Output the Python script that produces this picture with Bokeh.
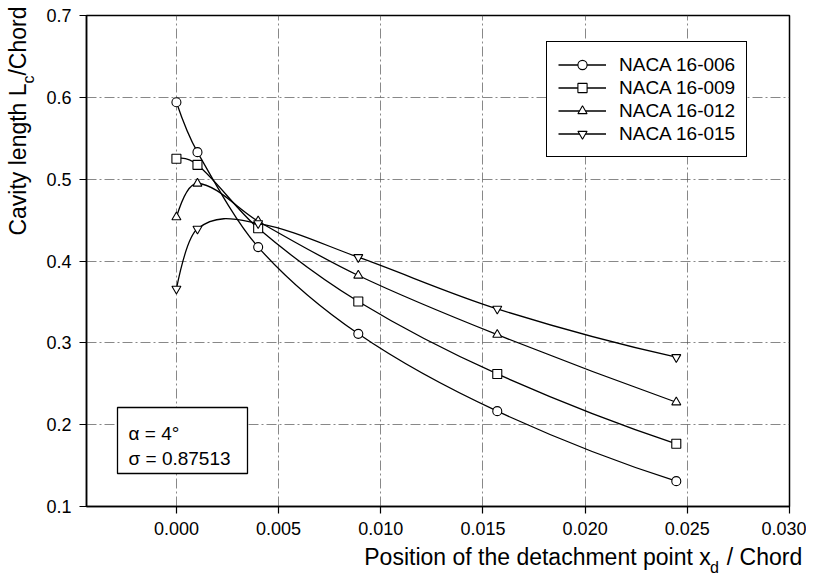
import numpy as np
from bokeh.plotting import figure
from bokeh.models import (Range1d, FixedTicker, NumeralTickFormatter, Label,
                          BoxAnnotation, Legend, LegendItem, LinearAxis)
from bokeh.embed import file_html
from bokeh.resources import INLINE

# ---------------- data ----------------
x_pos = [0.0, 0.00103, 0.0040, 0.0089, 0.0157, 0.02446]
naca_006 = [0.594, 0.533, 0.417, 0.311, 0.2165, 0.131]
naca_009 = [0.525, 0.5175, 0.440, 0.3505, 0.262, 0.1766]
naca_012 = [0.4535, 0.4947, 0.4486, 0.3823, 0.310, 0.2274]
naca_015 = [0.366, 0.4393, 0.446, 0.4046, 0.3415, 0.2824]
series_names = ["NACA 16-006", "NACA 16-009", "NACA 16-012", "NACA 16-015"]
series_markers = ["circle", "square", "triangle", "inverted_triangle"]
x_ticks = [0.000, 0.005, 0.010, 0.015, 0.020, 0.025, 0.030]
y_ticks = [0.1, 0.2, 0.3, 0.4, 0.5, 0.6, 0.7]
note_lines = ["\u03b1 = 4\u00b0", "\u03c3 = 0.87513"]
x_title = ["Position of the detachment point x", "d", "/ Chord"]
y_title = ["Cavity length L", "c", "/Chord"]

FONT = "Liberation Sans"
X_MIN, X_MAX = -0.0044, 0.030
Y_MIN, Y_MAX = 0.1, 0.7
FL, FT, FW, FH = 86, 15, 703, 491  # frame position in pixels


def X(px):
    return round(X_MIN + (px - FL) / FW * (X_MAX - X_MIN), 7)


def Y(py):
    return round(Y_MAX - (py - FT) / FH * (Y_MAX - Y_MIN), 7)


def bezier_segments(x, y):
    """Smooth (Catmull-Rom like) cubic Bezier segments through the points."""
    x = np.asarray(x, float)
    y = np.asarray(y, float)
    n = len(x)
    h = np.diff(x)
    sec = np.diff(y) / h
    m = np.zeros(n)
    for i in range(1, n - 1):
        m[i] = (y[i + 1] - y[i - 1]) / (x[i + 1] - x[i - 1])
    m[0] = 2 * sec[0] - m[1]
    m[-1] = 2 * sec[-1] - m[-2]
    return dict(
        x0=x[:-1], y0=y[:-1], x1=x[1:], y1=y[1:],
        cx0=x[:-1] + h / 3, cy0=y[:-1] + m[:-1] * h / 3,
        cx1=x[1:] - h / 3, cy1=y[1:] - m[1:] * h / 3,
    )


p = figure(output_backend="svg", toolbar_location=None,
           x_range=Range1d(X_MIN, X_MAX), y_range=Range1d(Y_MIN, Y_MAX),
           min_border_left=FL, min_border_right=17, min_border_top=FT,
           min_border_bottom=67, frame_width=FW, frame_height=FH)
p.background_fill_color = "white"
p.border_fill_color = "white"
p.outline_line_color = "black"
p.outline_line_alpha = 1
p.outline_line_width = 1.5

for ax in (p.xaxis[0], p.yaxis[0]):
    ax.axis_line_color = "black"
    ax.axis_line_width = 1.5
    ax.major_tick_line_color = "black"
    ax.major_tick_line_width = 1.2
    ax.major_tick_out = 7
    ax.major_tick_in = 0
    ax.minor_tick_line_color = None
    ax.major_label_text_font = FONT
    ax.major_label_text_font_size = "18px"
    ax.major_label_text_color = "black"
    ax.major_label_standoff = 8

p.xaxis.ticker = FixedTicker(ticks=x_ticks)
p.yaxis.ticker = FixedTicker(ticks=y_ticks)
p.xaxis.formatter = NumeralTickFormatter(format="0.000")
p.yaxis.formatter = NumeralTickFormatter(format="0.0")

p.xgrid.ticker = FixedTicker(ticks=x_ticks)
p.ygrid.ticker = FixedTicker(ticks=y_ticks)
for g in (p.xgrid[0], p.ygrid[0]):
    g.grid_line_color = "#555555"
    g.grid_line_width = 1
    g.grid_line_alpha = 0.7
    g.grid_line_dash = "10 3 2 3"


def title_axis(positions, texts, size, standoff, vertical=False):
    d = {}
    for pos, t in zip(positions, texts):
        d[pos] = t
        d[str(pos)] = t
    ax = LinearAxis(ticker=FixedTicker(ticks=positions),
                    major_label_overrides=d)
    ax.axis_line_color = None
    ax.major_tick_line_color = None
    ax.minor_tick_line_color = None
    ax.major_tick_out = 0
    ax.major_tick_in = 0
    ax.major_label_text_font = FONT
    ax.major_label_text_font_size = size
    ax.major_label_text_color = "black"
    ax.major_label_standoff = standoff
    if vertical:
        ax.major_label_orientation = "vertical"
    return ax


# x axis title (main text, then subscript row)
p.add_layout(title_axis([X(537), X(764)], [x_title[0], x_title[2]], "23px", 6), "below")
p.add_layout(title_axis([X(714)], [x_title[1]], "16px", -14), "below")
# y axis title (subscript column is nearer to the frame)
p.add_layout(title_axis([Y(79)], [y_title[1]], "16px", 6, vertical=True), "left")
p.add_layout(title_axis([Y(159), Y(40.5)], [y_title[0], y_title[2]], "23px", -14,
                        vertical=True), "left")

series_vals = [naca_006, naca_009, naca_012, naca_015]
items = []
for name, vals, mk in zip(series_names, series_vals, series_markers):
    seg = bezier_segments(x_pos, vals)
    br = p.bezier(line_color="black", line_width=1.3, **seg)
    sr = p.scatter(x_pos, vals, marker=mk, size=9, fill_color="white",
                   line_color="black", line_width=1.1)
    items.append(LegendItem(label=name, renderers=[br, sr]))

legend = Legend(items=items, location=(460, 349))
legend.label_text_font = FONT
legend.label_text_font_size = "19px"
legend.label_text_color = "black"
legend.label_height = 23
legend.glyph_height = 23
legend.glyph_width = 48
legend.label_standoff = 13
legend.spacing = 0
legend.padding = 11
legend.margin = 0
legend.border_line_color = "black"
legend.border_line_alpha = 1
legend.border_line_width = 1.3
legend.background_fill_color = "white"
legend.background_fill_alpha = 1
p.add_layout(legend, "center")

# annotation box
box = BoxAnnotation(left=X(117), right=X(247), top=Y(407), bottom=Y(473),
                    fill_color="white", fill_alpha=1, line_color="black",
                    line_alpha=1, line_width=1.3, level="annotation")
p.add_layout(box)
for txt, py in zip(note_lines, [433, 458]):
    p.add_layout(Label(x=X(128), y=Y(py), text=txt, text_font=FONT,
                       text_font_size="19px", text_color="black",
                       text_baseline="alphabetic", text_align="left"))

open("out.html", "w").write(file_html(p, INLINE))
